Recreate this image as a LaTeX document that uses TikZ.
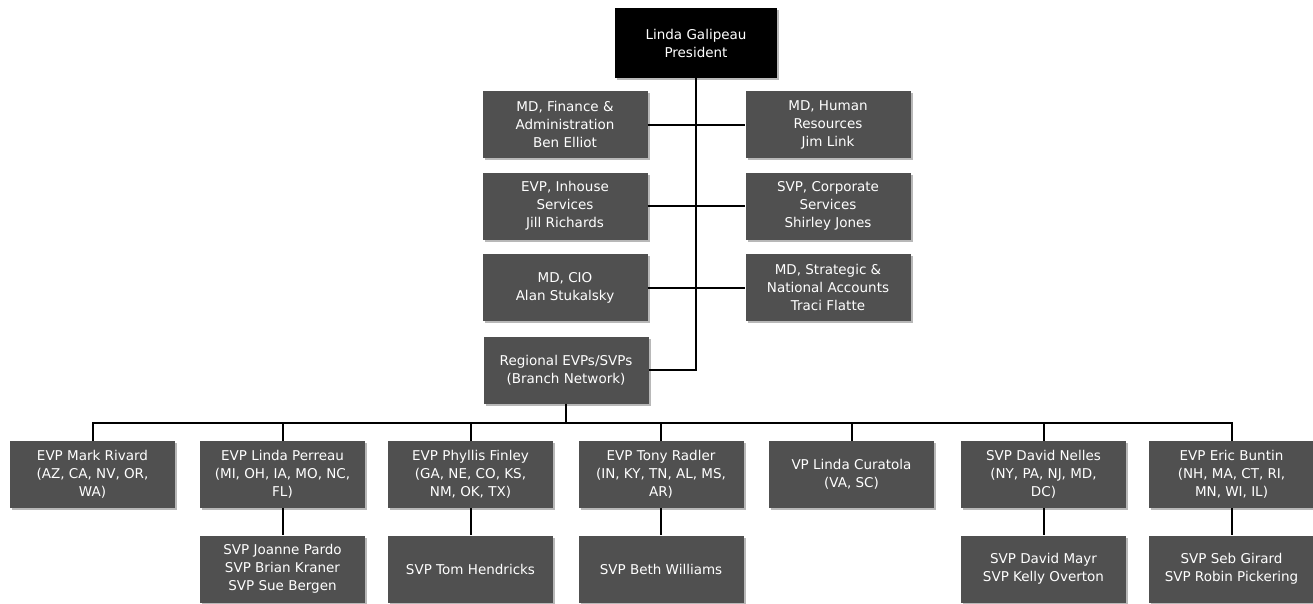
\documentclass[tikz,border=0pt]{standalone}
\usepackage{fontspec}
\setmainfont{DejaVu Sans}
\usetikzlibrary{shadows}
\definecolor{boxgray}{HTML}{505050}
\definecolor{shadowgray}{HTML}{B8B8B8}
\begin{document}
\begin{tikzpicture}[x=1pt,y=-1pt,
  orgbox/.style={fill=boxgray, text=white, align=center, minimum width=165pt,
    minimum height=67pt, inner sep=2pt, font=\fontsize{13.5}{18}\selectfont,
    drop shadow={shadow xshift=2pt, shadow yshift=-2pt, fill=shadowgray, opacity=1}},
  topbox/.style={orgbox, fill=black, minimum width=162pt, minimum height=70pt},
  conn/.style={line width=2pt, black}]
\useasboundingbox (0,0) rectangle (1313,603);
% president
\node[topbox] (pres) at (696,43) {Linda Galipeau\\President};
% staff
\node[orgbox] (fin) at (565,124.5) {MD, Finance \&\\Administration\\Ben Elliot};
\node[orgbox] (hr) at (828,124.5) {MD, Human\\Resources\\Jim Link};
\node[orgbox] (inh) at (565,206) {EVP, Inhouse\\Services\\Jill Richards};
\node[orgbox] (corp) at (828,206) {SVP, Corporate\\Services\\Shirley Jones};
\node[orgbox] (cio) at (565,287.5) {MD, CIO\\Alan Stukalsky};
\node[orgbox] (strat) at (828,287.5) {MD, Strategic \&\\National Accounts\\Traci Flatte};
\node[orgbox] (reg) at (566,370) {Regional EVPs/SVPs\\(Branch Network)};
% regional
\node[orgbox] (b1) at (92.5,474.5) {EVP Mark Rivard\\(AZ, CA, NV, OR,\\WA)};
\node[orgbox] (b2) at (282.5,474.5) {EVP Linda Perreau\\(MI, OH, IA, MO, NC,\\FL)};
\node[orgbox] (b3) at (470.5,474.5) {EVP Phyllis Finley\\(GA, NE, CO, KS,\\NM, OK, TX)};
\node[orgbox] (b4) at (661,474.5) {EVP Tony Radler\\(IN, KY, TN, AL, MS,\\AR)};
\node[orgbox] (b5) at (851.5,474.5) {VP Linda Curatola\\(VA, SC)};
\node[orgbox] (b6) at (1043.5,474.5) {SVP David Nelles\\(NY, PA, NJ, MD,\\DC)};
\node[orgbox] (b7) at (1231.5,474.5) {EVP Eric Buntin\\(NH, MA, CT, RI,\\MN, WI, IL)};
% sub
\node[orgbox] (s2) at (282.5,569) {SVP Joanne Pardo\\SVP Brian Kraner\\SVP Sue Bergen};
\node[orgbox] (s3) at (470.5,569) {SVP Tom Hendricks};
\node[orgbox] (s4) at (661,569) {SVP Beth Williams};
\node[orgbox] (s6) at (1043.5,569) {SVP David Mayr\\SVP Kelly Overton};
\node[orgbox] (s7) at (1231.5,569) {SVP Seb Girard\\SVP Robin Pickering};
% connectors
\coordinate (bus) at (566,423);
\draw[conn] (pres.south) |- (reg.east);
\draw[conn] (fin.east) -- (hr.west);
\draw[conn] (inh.east) -- (corp.west);
\draw[conn] (cio.east) -- (strat.west);
\draw[conn] (reg.south) -- (bus);
\draw[conn] (b1.north) |- (bus) -| (b7.north);
\foreach \b in {b2,b3,b4,b5,b6} \draw[conn] (\b.north) -- (\b.north |- bus);
\draw[conn] (b2.south) -- (s2.north);
\draw[conn] (b3.south) -- (s3.north);
\draw[conn] (b4.south) -- (s4.north);
\draw[conn] (b6.south) -- (s6.north);
\draw[conn] (b7.south) -- (s7.north);
\end{tikzpicture}
\end{document}
